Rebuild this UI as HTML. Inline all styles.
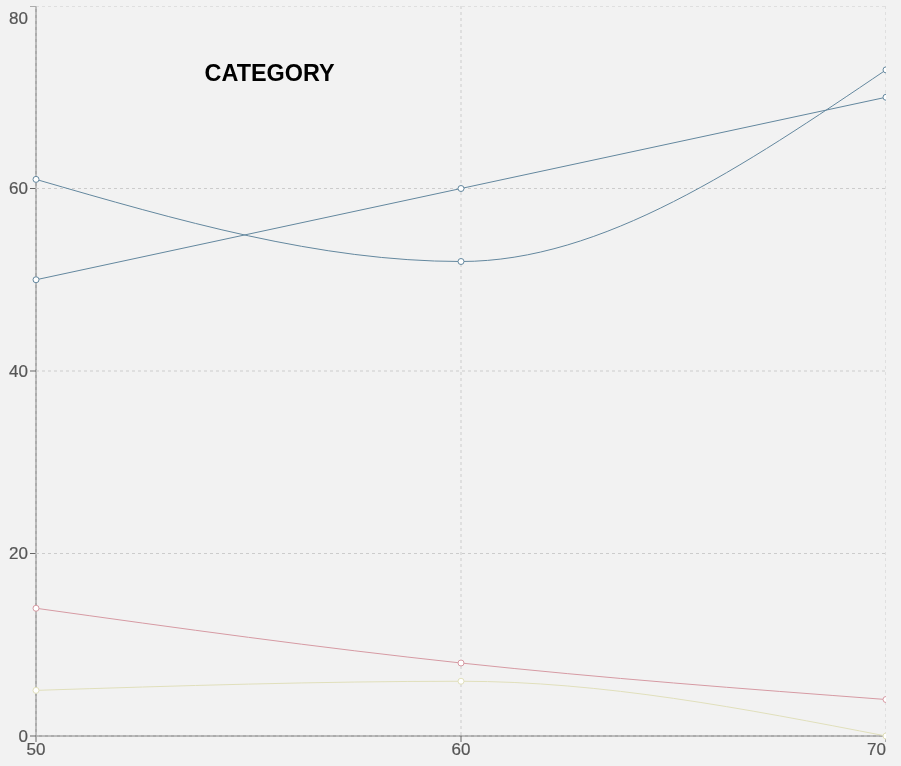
<!DOCTYPE html>
<html><head><meta charset="utf-8"><style>
html,body{margin:0;padding:0;background:#f2f2f2;width:901px;height:766px;overflow:hidden;}
svg{display:block;will-change:transform;font-family:"Liberation Sans", sans-serif;}
</style></head><body>
<svg width="901" height="766" viewBox="0 0 901 766">
<defs><clipPath id="c"><rect x="0" y="6" width="886" height="760"/></clipPath></defs>
<g clip-path="url(#c)">
<g stroke="#666666" stroke-width="1" fill="none">
<line x1="36" y1="6" x2="36" y2="736"/>
<line x1="30" y1="736" x2="36" y2="736"/>
<line x1="30" y1="553.5" x2="36" y2="553.5"/>
<line x1="30" y1="371" x2="36" y2="371"/>
<line x1="30" y1="188.5" x2="36" y2="188.5"/>
<line x1="30" y1="6" x2="36" y2="6"/>
<line x1="36" y1="736" x2="886" y2="736"/>
<line x1="36" y1="736" x2="36" y2="742"/>
<line x1="461" y1="736" x2="461" y2="742"/>
<line x1="886" y1="736" x2="886" y2="742"/>
</g>
<g stroke="#cccccc" stroke-width="1" stroke-dasharray="3 3" fill="none">
<line x1="36" y1="736" x2="886" y2="736"/>
<line x1="36" y1="553.5" x2="886" y2="553.5"/>
<line x1="36" y1="371" x2="886" y2="371"/>
<line x1="36" y1="188.5" x2="886" y2="188.5"/>
<line x1="36" y1="6" x2="886" y2="6"/>
<line x1="36" y1="6" x2="36" y2="736"/>
<line x1="461" y1="6" x2="461" y2="736"/>
<line x1="886" y1="6" x2="886" y2="736"/>
</g>
<path d="M36,279.75C177.6667,249.3333,319.3333,218.9167,461,188.5C602.6667,158.0833,744.3333,127.6667,886,97.25" stroke="#63879e" stroke-width="1" fill="none"/>
<path d="M36,179.375C177.6667,220.4375,319.3333,261.5,461,261.5C602.6667,261.5,744.3333,165.6875,886,69.875" stroke="#63879e" stroke-width="1" fill="none"/>
<path d="M36,608.25C177.6667,628.0208,319.3333,647.7917,461,663C602.6667,678.2083,744.3333,688.8542,886,699.5" stroke="#d69aa3" stroke-width="1" fill="none"/>
<path d="M36,690.375C177.6667,685.8125,319.3333,681.25,461,681.25C602.6667,681.25,744.3333,708.625,886,736" stroke="#e0dfbb" stroke-width="1" fill="none"/>
<circle cx="36" cy="279.75" r="3" stroke="#63879e" stroke-width="1" fill="#fff"/>
<circle cx="461" cy="188.5" r="3" stroke="#63879e" stroke-width="1" fill="#fff"/>
<circle cx="886" cy="97.25" r="3" stroke="#63879e" stroke-width="1" fill="#fff"/>
<circle cx="36" cy="179.375" r="3" stroke="#63879e" stroke-width="1" fill="#fff"/>
<circle cx="461" cy="261.5" r="3" stroke="#63879e" stroke-width="1" fill="#fff"/>
<circle cx="886" cy="69.875" r="3" stroke="#63879e" stroke-width="1" fill="#fff"/>
<circle cx="36" cy="608.25" r="3" stroke="#d69aa3" stroke-width="1" fill="#fff"/>
<circle cx="461" cy="663" r="3" stroke="#d69aa3" stroke-width="1" fill="#fff"/>
<circle cx="886" cy="699.5" r="3" stroke="#d69aa3" stroke-width="1" fill="#fff"/>
<circle cx="36" cy="690.375" r="3" stroke="#e0dfbb" stroke-width="1" fill="#fff"/>
<circle cx="461" cy="681.25" r="3" stroke="#e0dfbb" stroke-width="1" fill="#fff"/>
<circle cx="886" cy="736" r="3" stroke="#e0dfbb" stroke-width="1" fill="#fff"/>
</g>
<g fill="#555555" stroke="#555555" stroke-width="0.2" font-family="Liberation Sans, sans-serif" font-size="17">
<text x="28" y="742" text-anchor="end">0</text>
<text x="28" y="559" text-anchor="end">20</text>
<text x="28" y="377" text-anchor="end">40</text>
<text x="28" y="194" text-anchor="end">60</text>
<text x="28" y="24" text-anchor="end">80</text>
<text x="36" y="755.1" text-anchor="middle">50</text>
<text x="461" y="755.1" text-anchor="middle">60</text>
<text x="886" y="755.1" text-anchor="end">70</text>
</g>
<text x="204.6" y="81" font-family="Liberation Sans, sans-serif" font-size="23.4" font-weight="bold" fill="#000">CATEGORY</text>
</svg>
</body></html>
